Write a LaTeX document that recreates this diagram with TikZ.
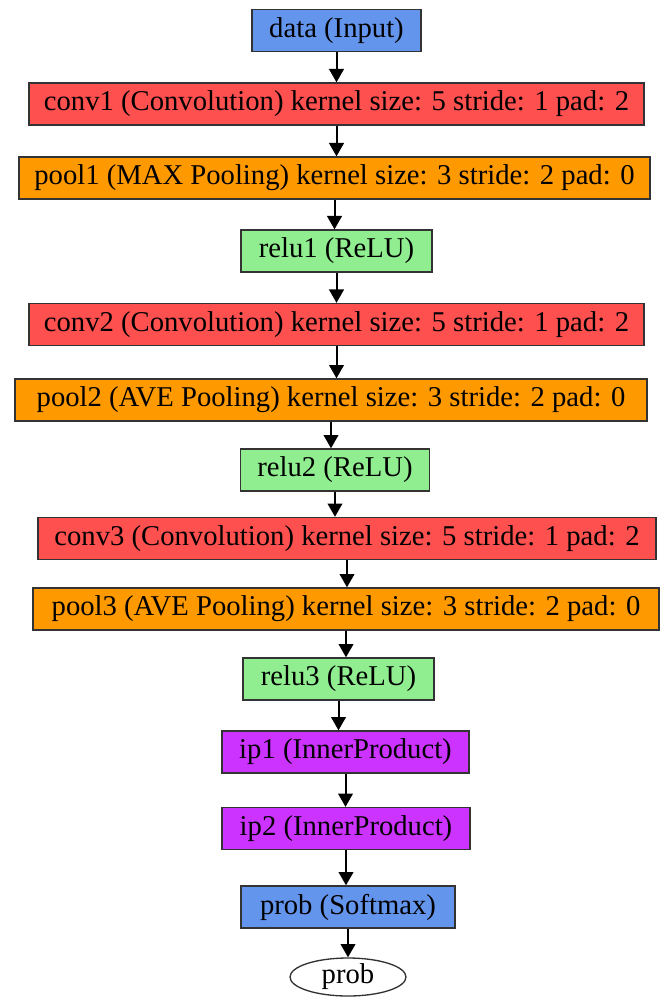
\documentclass[tikz,border=0pt]{standalone}
\usepackage{fontspec}
\setmainfont{Liberation Serif}
\usetikzlibrary{shapes.geometric,arrows.meta}
\definecolor{inputblue}{HTML}{6495ED}
\definecolor{convred}{HTML}{FF5050}
\definecolor{poolorange}{HTML}{FF9900}
\definecolor{relugreen}{HTML}{90EE90}
\definecolor{ipviolet}{HTML}{CC33FF}
\begin{document}
\begin{tikzpicture}[x=0.75pt,y=-0.75pt,
        layer/.style={draw=black!80, line width=1pt, minimum height=31.5pt, inner sep=0pt,
            font=\fontsize{21.5}{24}\selectfont},
        flow/.style={line width=1.5pt, -{Triangle[width=11pt,length=10pt]}}]
    \useasboundingbox (0,0) rectangle (660,998);
    \node[layer, fill=inputblue, minimum width=126.75pt] (data) at (336.5,30.5) {data (Input)};
    \node[layer, fill=convred, minimum width=461.25pt] (conv1) at (336.5,104) {conv1 (Convolution) kernel size: 5 stride: 1 pad: 2};
    \node[layer, fill=poolorange, minimum width=473.25pt] (pool1) at (334.5,178) {pool1 (MAX Pooling) kernel size: 3 stride: 2 pad: 0};
    \node[layer, fill=relugreen, minimum width=143.25pt] (relu1) at (336.5,251) {relu1 (ReLU)};
    \node[layer, fill=convred, minimum width=461.25pt] (conv2) at (336.5,324.5) {conv2 (Convolution) kernel size: 5 stride: 1 pad: 2};
    \node[layer, fill=poolorange, minimum width=474pt] (pool2) at (331,400) {pool2 (AVE Pooling) kernel size: 3 stride: 2 pad: 0};
    \node[layer, fill=relugreen, minimum width=141.75pt] (relu2) at (335,470) {relu2 (ReLU)};
    \node[layer, fill=convred, minimum width=463.5pt] (conv3) at (347,538.5) {conv3 (Convolution) kernel size: 5 stride: 1 pad: 2};
    \node[layer, fill=poolorange, minimum width=469.5pt] (pool3) at (346,609) {pool3 (AVE Pooling) kernel size: 3 stride: 2 pad: 0};
    \node[layer, fill=relugreen, minimum width=143.25pt] (relu3) at (338.5,679) {relu3 (ReLU)};
    \node[layer, fill=ipviolet, minimum width=185.25pt] (ip1) at (345.5,752) {ip1 (InnerProduct)};
    \node[layer, fill=ipviolet, minimum width=186pt] (ip2) at (346,828.5) {ip2 (InnerProduct)};
    \node[layer, fill=inputblue, minimum width=160.5pt] (probsm) at (348,907) {prob (Softmax)};
    \node[layer, ellipse, fill=white, minimum width=87pt, minimum height=28.5pt] (probout) at (348,977) {prob};
    % edges, straight down from each layer
    \foreach \a/\b in {data/conv1, conv1/pool1, pool1/relu1, relu1/conv2, conv2/pool2, pool2/relu2,
            relu2/conv3, conv3/pool3, pool3/relu3, relu3/ip1, ip1/ip2, ip2/probsm, probsm/probout}
        \draw[flow] (\a.south) -- (\a.south |- \b.north);
\end{tikzpicture}
\end{document}
